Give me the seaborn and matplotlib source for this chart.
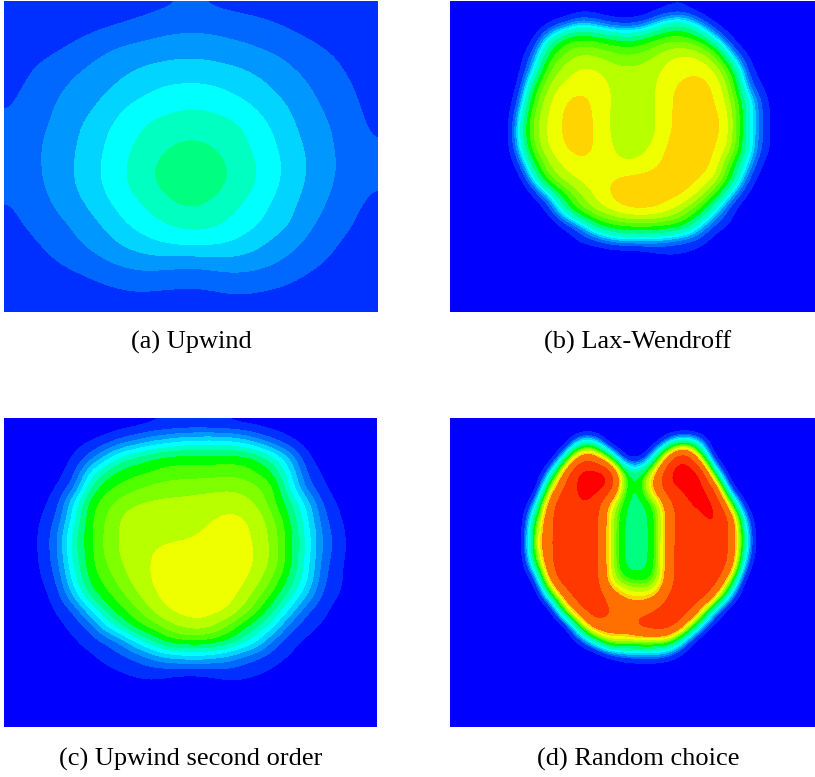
import numpy as np
import pandas as pd
import matplotlib
matplotlib.use('Agg')
import matplotlib.pyplot as plt
from matplotlib.colors import BoundaryNorm, ListedColormap
import seaborn as sns

# contour band colours, low to high
band_colors = ['#0000ff', '#0030ff', '#0068ff', '#0098ff', '#00d4ff', '#00ffff',
               '#00ffc0', '#00ff80', '#00ff00', '#50ff00', '#80ff00', '#b8ff00',
               '#f0ff00', '#ffd400', '#ff7000', '#ff3800', '#ff0000']

captions = ['(a) Upwind', '(b) Lax-Wendroff', '(c) Upwind second order', '(d) Random choice']

# solution values, in units of the band index
upwind = [
    [0.7,0.7,0.7,0.7,0.8,0.95,1.1,1.25,1.4,1.52,1.52,1.4,1.3,1.2,1.05,0.9,0.7,0.7,0.6,0.6],
    [0.7,0.8,0.9,1.1,1.3,1.55,1.75,2.0,2.25,2.37,2.38,2.3,2.15,2.0,1.75,1.45,1.2,1.0,0.85,0.7],
    [0.8,1.05,1.3,1.6,2.0,2.4,2.7,2.85,3.0,3.1,3.1,2.95,2.75,2.55,2.3,2.0,1.7,1.4,1.15,0.95],
    [1.0,1.5,1.85,2.25,2.6,2.95,3.35,3.6,3.8,3.9,3.9,3.75,3.6,3.3,3.0,2.5,2.15,1.75,1.35,1.0],
    [1.3,1.75,2.2,2.6,2.95,3.4,3.8,4.2,4.6,4.7,4.7,4.55,4.2,3.85,3.4,2.95,2.45,2.0,1.6,1.15],
    [1.45,2.0,2.4,2.95,3.3,3.9,4.55,4.95,5.2,5.4,5.45,5.25,4.95,4.45,3.9,3.35,2.75,2.25,1.8,1.25],
    [1.7,2.2,2.55,3.1,3.75,4.4,5.0,5.55,5.9,6.1,6.1,5.95,5.7,5.0,4.35,3.6,2.95,2.5,2.0,1.4],
    [1.8,2.3,2.7,3.25,3.95,4.6,5.3,5.85,6.35,6.7,6.7,6.4,5.9,5.3,4.6,3.85,3.2,2.55,2.1,1.55],
    [1.85,2.3,2.7,3.35,4.05,4.75,5.5,6.2,6.8,7.1,7.1,6.8,6.2,5.55,4.8,4.0,3.3,2.65,2.15,1.65],
    [1.75,2.25,2.65,3.3,4.0,4.7,5.45,6.15,6.75,7.05,7.05,6.75,6.15,5.5,4.7,3.9,3.2,2.55,2.0,1.55],
    [1.45,2.0,2.45,3.0,3.6,4.35,5.0,5.55,6.2,6.65,6.65,6.2,5.65,5.0,4.3,3.6,2.95,2.3,1.8,1.35],
    [1.3,1.7,2.15,2.5,3.1,3.7,4.5,5.0,5.45,5.75,5.85,5.65,5.05,4.65,4.0,3.4,2.55,2.05,1.6,1.1],
    [0.95,1.35,1.75,2.2,2.65,3.2,3.7,4.15,4.55,4.8,4.8,4.65,4.35,3.8,3.2,2.7,2.15,1.65,1.25,0.9],
    [0.7,1.0,1.35,1.7,2.0,2.4,2.75,2.95,2.9,2.75,2.75,3.0,3.05,2.9,2.55,2.15,1.7,1.35,1.05,0.8],
    [0.6,0.7,0.9,1.05,1.3,1.55,1.75,1.85,1.75,1.7,1.7,1.85,1.95,1.85,1.7,1.45,1.15,0.95,0.8,0.65],
    [0.6,0.6,0.7,0.8,0.9,1.0,1.1,1.1,1.05,1.0,1.0,1.1,1.2,1.15,1.05,0.95,0.8,0.7,0.6,0.6],
]

lax_wendroff = [
    [0,0,0,0,0,0,0,0.2,0.9,0.9,0.4,0.2,0.4,1.1,1.7,1.7,0.7,0,0,0,0,0,0,0],
    [0,0,0,0,0,0.1,2,3,4.5,4,3,2.7,3,4.5,6,6,4,1.7,0.3,0,0,0,0,0],
    [0,0,0,0,0,2,5.5,8,8.7,8.4,7.8,7.2,7.6,8.6,9.3,9.2,8,5,2.1,0.3,0,0,0,0],
    [0,0,0,0,1,3.5,8,9.8,10.7,10.6,10,9.6,9.8,10.6,11.4,11.7,11.3,9.5,4.5,2,0.2,0,0,0],
    [0,0,0,0,1.2,5,9.5,11,11.7,11.7,11.1,10.8,10.9,11.2,12,12.3,12.4,11.6,8.5,3,1,0,0,0],
    [0,0,0,0,2,7.5,10.8,11.8,12.2,12.1,11.5,11,11,11.4,12.4,12.8,12.9,12.4,10,4,1.9,0.3,0,0],
    [0,0,0,0.3,3,9,11.5,12.5,12.9,12.4,11.5,11,11,11.4,12.5,13,13,12.6,10.8,6,3,0.7,0,0],
    [0,0,0,0.2,4.5,10,11.7,12.7,13,12.5,11.4,11,11,11.4,12.5,13,13,12.9,11.5,6.2,3,1,0,0],
    [0,0,0,0.4,5,10.3,11.8,12.7,13,12.6,11.4,11,11,11.3,12.6,13,13,12.9,11.5,6,3,1,0,0],
    [0,0,0,0.2,4.5,9.5,11.7,12.5,13,12.5,11.6,11.1,11.1,11.8,12.9,13,13,12.6,11.2,6,3,1,0,0],
    [0,0,0,0.3,2.5,7.5,10.8,11.7,12.3,12.2,11.9,11.5,11.7,12.3,13,13,12.9,12.5,8.5,5,2,0.3,0,0],
    [0,0,0,0,1,5,9.5,11.1,11.7,12,12.4,12.9,13,13,13,13,12.7,11.5,7.5,3.5,1,0,0,0],
    [0,0,0,0,0,1.9,4.5,8.2,10.5,11.7,12.7,13,13,13,13,12.6,11.2,8,4.5,1.9,0.3,0,0,0],
    [0,0,0,0,0,0.2,2.4,6,9,10.8,11.7,12.7,12.9,12.7,11.8,10.3,8.2,4.8,2.2,0.5,0,0,0,0],
    [0,0,0,0,0,0,0.3,2.2,3.5,6.5,8.2,8.7,8.8,8.8,8.5,7.5,4.5,2.6,1.8,0.3,0,0,0,0],
    [0,0,0,0,0,0,0,0.5,2,2.5,3.5,4,4,3.8,3.2,2.8,2.6,1,0,0,0,0,0,0],
    [0,0,0,0,0,0,0,0,0,0.1,0.2,0.2,0.3,1.2,1.7,1.6,0.7,0,0,0,0,0,0,0],
    [0,0,0,0,0,0,0,0,0,0,0,0,0,0,0,0,0,0,0,0,0,0,0,0],
    [0,0,0,0,0,0,0,0,0,0,0,0,0,0,0,0,0,0,0,0,0,0,0,0],
    [0,0,0,0,0,0,0,0,0,0,0,0,0,0,0,0,0,0,0,0,0,0,0,0],
]

upwind_second = [
    [0,0,0,0,0,0,0,0,0.1,0.35,0.45,0.55,0.55,0.45,0.35,0.2,0.1,0,0,0,0,0,0,0],
    [0,0,0,0,0.1,0.3,0.7,1.7,2.5,3.4,4,4.6,4.8,4.9,4.7,4,2.6,1.4,0.4,0,0,0,0,0],
    [0,0,0,0.1,0.4,1.7,3.7,5.8,6.7,7.5,7.9,8,8,8,8,8,7.3,5.4,3.1,0.5,0,0,0,0],
    [0,0,0,0.1,1,4.6,6.8,8,8.3,8.5,8.9,9,9,9,9.2,8.9,8.3,7.2,4.5,1.3,0.3,0,0,0],
    [0,0,0,0.5,2,6.5,8.3,8.7,9.2,9.8,10,10.1,10.2,10.3,10.4,10.2,9.6,8.5,5,2,0.6,0,0,0],
    [0,0,0.2,1.2,4.8,8.1,9,10,10.6,10.7,10.8,10.8,10.9,11,11.1,10.9,10.2,8.4,6.8,4.2,1.4,0.3,0,0],
    [0,0,0.5,1.7,5.2,8.3,9.5,10.7,10.9,11,11,11,11.2,11.5,11.8,11.6,11,9.4,7.3,4.7,1.9,0.6,0,0],
    [0,0,0.7,2.5,6.2,8.3,9.7,10.7,10.9,11.1,11.2,11.3,11.5,11.8,11.9,11.7,11.2,9.8,7.7,5.2,2.3,0.9,0,0],
    [0,0,0.7,2.5,6.3,8.1,9.8,10.7,11,11.5,11.7,11.8,11.8,11.9,12,11.8,11.3,10,7.6,5.3,2.3,1,0,0],
    [0,0,0.6,2.2,5.8,8.1,9.4,10.5,11,11.6,11.9,12,12,12,12,11.9,11.2,9.9,7.5,5,2,0.7,0,0],
    [0,0,0.4,1.7,5.1,7.9,8.7,10.1,10.9,11.6,11.9,12,12,12,12,11.7,10.7,9,7,4.8,1.7,0.7,0,0],
    [0,0,0.1,1.1,3.8,6.8,8.2,9.1,10.4,11.3,11.9,12,12,12,11.9,11.1,9.6,7.9,5.8,3.6,1.2,0.5,0,0],
    [0,0,0,0.6,1.4,4.2,6.7,8.2,9.2,10.6,11.5,11.9,12,11.9,11.5,10.2,8.3,6.3,4.1,1.4,0.8,0,0,0],
    [0,0,0,0.2,0.8,1.6,4.4,6.5,8.2,8.9,10.1,10.8,11.2,10.6,9.4,7.6,6.3,4.5,1.5,0.9,0.3,0,0,0],
    [0,0,0,0,0.3,0.9,1.3,2.4,4.6,6.4,8,8.4,8.5,8.2,7.2,6,4.2,1.6,0.8,0.2,0,0,0,0],
    [0,0,0,0,0,0.2,0.8,1.2,1.6,2.6,3.5,3.9,4,3.6,3,2,1.3,0.8,0.3,0,0,0,0,0],
    [0,0,0,0,0,0,0.1,0.4,0.7,0.8,0.6,0.3,0.3,0.6,0.85,0.75,0.5,0.2,0,0,0,0,0,0],
    [0,0,0,0,0,0,0,0,0,0.1,0,0,0,0,0.1,0.1,0,0,0,0,0,0,0,0],
    [0,0,0,0,0,0,0,0,0,0,0,0,0,0,0,0,0,0,0,0,0,0,0,0],
    [0,0,0,0,0,0,0,0,0,0,0,0,0,0,0,0,0,0,0,0,0,0,0,0],
]

# this panel has very tight rings, its band edges below are packed closer at the rim
random_choice = [
    [0,0,0,0,0,0,0,0,0,0,0,0,0,0,0,0,0,0,0,0,0,0,0,0],
    [0,0,0,0,0,0,0,0.3,5.5,5.8,0.6,0,0,1,5,6.8,4.5,0,0,0,0,0,0,0],
    [0,0,0,0,0,0,0.1,5.5,12.5,12.5,8,1.5,1,6,13.3,16.5,9.3,1,0,0,0,0,0,0],
    [0,0,0,0,0,0,4,12,16.5,16.5,16,7.7,6.8,10.9,16.5,16.5,16.5,6,0.1,0,0,0,0,0],
    [0,0,0,0,0,0.1,9,14,16,16.5,16,7.6,7,12.5,15.4,16,16.5,13.5,2,0,0,0,0,0],
    [0,0,0,0,0,3.5,12.5,15,15.4,15.4,10.3,7.3,7,8.1,13.3,15.3,16,16.2,8.5,1,0,0,0,0],
    [0,0,0,0,0,7,13,15,15,15,9.5,7.1,7,7.6,12.5,15,15,16.2,13.5,4,0,0,0,0],
    [0,0,0,0,0,8.5,13,15,15,15,9.5,7,7,7.6,13,15,15,15,13.5,5.5,0,0,0,0],
    [0,0,0,0,0,8.7,13,15,15,15,9.5,7,7,7.6,13,15,15,15,13.5,5.5,0,0,0,0],
    [0,0,0,0,0,6.5,13,15,15,15,9.5,7,7,7.6,13,15,15,15,13.3,3.5,0,0,0,0],
    [0,0,0,0,0,2,11.5,15,15,15,9.6,8,7.8,8,13,15,15,15,9,1,0,0,0,0],
    [0,0,0,0,0,0,6.5,12,15,15,12.5,10.6,10,10.6,14,15,15,11.5,4.5,0,0,0,0,0],
    [0,0,0,0,0,0,0.5,8.5,12.5,15,13.5,12.5,12.5,13.6,15,15,11,4.5,0.5,0,0,0,0,0],
    [0,0,0,0,0,0,0,1,8,12.5,12.5,12.5,14.5,15,15,10.9,5,0.5,0,0,0,0,0,0],
    [0,0,0,0,0,0,0,0,2.2,6,9.7,9,9,9,8.4,4,0.3,0,0,0,0,0,0,0],
    [0,0,0,0,0,0,0,0,0,0,1.9,3.2,3.6,3.6,2.8,1,0,0,0,0,0,0,0,0],
    [0,0,0,0,0,0,0,0,0,0,0,0,0,0,0,0,0,0,0,0,0,0,0,0],
    [0,0,0,0,0,0,0,0,0,0,0,0,0,0,0,0,0,0,0,0,0,0,0,0],
    [0,0,0,0,0,0,0,0,0,0,0,0,0,0,0,0,0,0,0,0,0,0,0,0],
    [0,0,0,0,0,0,0,0,0,0,0,0,0,0,0,0,0,0,0,0,0,0,0,0],
]

fields = [upwind, lax_wendroff, upwind_second, random_choice]
top_band = [7, 13, 12, 16]

# band edges per panel
even_edges = list(np.arange(-0.5, 17))
edges = [even_edges[:9],
         [-0.5, 1.9, 3, 3.7, 4.3, 4.8, 5.5, 6.5, 7.5, 8.5, 9.5, 10.5, 11.5, 12.5, 14],
         even_edges[:14],
         [-0.5, 2.2, 3.4, 3.9, 4.5, 5.1, 5.7, 6.6, 7.4, 8.1, 8.5, 9.0, 9.65, 10.3, 10.9, 13.3, 15.5, 18]]

# panel boxes in pixels: left, top, right, bottom
W, H = 815, 777
boxes = [(4, 1, 377, 312), (450, 1, 815, 312), (4, 418, 377, 727), (450, 418, 815, 727)]
caption_x = [191, 638, 191, 638]
caption_y = [342, 342, 759, 759]

sns.set_theme(style='white')
plt.rcParams['font.family'] = ['Liberation Serif', 'DejaVu Serif']

fig = plt.figure(figsize=(W / 100, H / 100), dpi=100)
for field, top, edge, box, cap, cx, cy in zip(fields, top_band, edges, boxes, captions, caption_x, caption_y):
    l, t, r, b = box
    ax = fig.add_axes([l / W, 1 - b / H, (r - l) / W, (b - t) / H])
    cmap = ListedColormap(sns.color_palette(band_colors[:top + 1]))
    norm = BoundaryNorm(edge, cmap.N)
    df = pd.DataFrame(field)
    sns.heatmap(df, ax=ax, cmap=cmap, norm=norm, cbar=False,
                xticklabels=False, yticklabels=False)
    # smooth the cell grid into contour bands, on top of the heatmap cells
    ax.imshow(df.values, cmap=cmap, norm=norm, aspect='auto', interpolation='bicubic',
              interpolation_stage='data', extent=(0, df.shape[1], df.shape[0], 0), zorder=5)
    ax.axis('off')
    fig.text(cx / W, 1 - cy / H, cap, ha='center', va='center', fontsize=19, color='black')

plt.savefig('out.png', dpi=100)
